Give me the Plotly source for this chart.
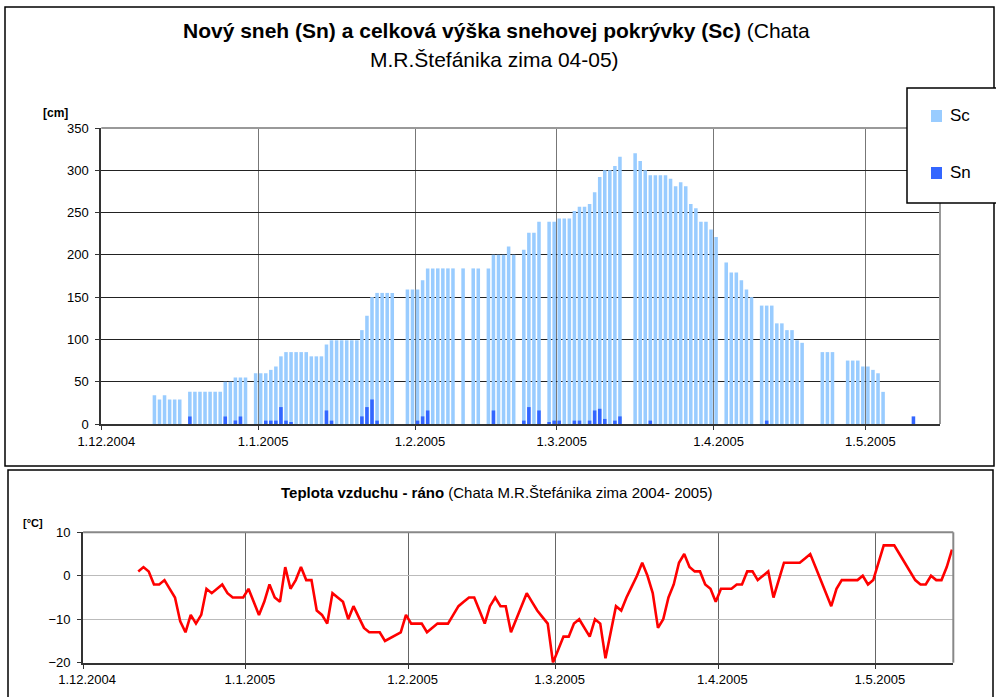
import pandas as pd
import plotly.graph_objects as go

# Snow data, one value per day starting 11.12.2004 (None = no measurement)
snow_start = '2004-12-11 12:00'
sc = [34, 29, 34, 29, 29, 29, None, 38, 38, 38, 38, 38, 38, 38, 50, 50, 55, 55, 55, None,
      60, 60, 60, 64, 68, 80, 85, 85, 85, 85, 85, 80, 80, 80, 94, 99, 99, 99, 99, 99, 99,
      111, 128, 150, 155, 155, 155, 155, None, None, 159, 159, 159, 170, 184, 184, 184, 184,
      184, 184, None, 184, None, 184, 184, None, 184, 200, 200, 200, 210, 200, None, 206,
      226, 226, 239, None, 239, 239, 243, 243, 243, 252, 257, 257, 260, 274, 292, 300, 300,
      305, 316, None, None, 320, 311, 300, 294, 294, 294, 294, 290, 281, 286, 281, 260, 255,
      239, 239, 230, 221, None, 191, 179, 179, 170, 159, 150, None, 140, 140, 140, 119, 119,
      111, 111, 99, 96, None, None, None, 85, 85, 85, None, None, 75, 75, 75, 68, 68, 64,
      60, 38, None, None, None, None, None, None]
sn = [None] * len(sc)
sn_days = {17: 9, 24: 9, 26: 4, 27: 9, 32: 4, 33: 4, 34: 4, 35: 20, 36: 4, 37: 2, 44: 16,
           45: 4, 51: 9, 52: 20, 53: 29, 54: 4, 62: 4, 63: 9, 64: 16, 77: 16, 83: 4, 84: 20,
           86: 16, 88: 2, 89: 4, 90: 4, 93: 4, 94: 4, 96: 4, 97: 16, 98: 18, 99: 6, 101: 4,
           102: 9, 108: 4, 131: 4, 160: 9}
for day, val in sn_days.items():
    sn[day - 10] = val

# Morning air temperature, one value per day starting 11.12.2004
temp = [1, 2, 1, -2, -2, -1, -3, -5, -10.5, -13, -9, -11, -9, -3, -4, -3, -2, -4, -5, -5,
        -5, -3, -6, -9, -6, -2, -5, -6, 2, -3, -1, 2, -1, -1, -8, -9, -11, -4, -5, -6,
        -10, -7, -9.5, -12, -13, -13, -13, -15, -14.3, -13.7, -13, -9, -11, -11, -11, -13,
        -12, -11, -11, -11, -9, -7, -6, -5, -5, -8, -11, -7, -5, -7, -7, -13, -10, -7, -4,
        -6, -8, -9.5, -11, -20, -17, -14, -14, -11, -10, -12, -14, -10, -11, -19, -13, -7,
        -8, -5, -2.5, 0, 3, 0, -4, -12, -10, -5, -2, 3, 5, 2, 1, 1, -2, -3, -6, -3, -3, -3,
        -2, -2, 1, 1, -1, 0, 1, -5, -1, 3, 3, 3, 3, 4, 5, 2, -1, -4, -7, -3, -1, -1, -1, -1,
        0, -2, -1, 3, 7, 7, 7, 5, 3, 1, -1, -2, -2, 0, -1, -1, 2, 6]

month_ticks = ['2004-12-01', '2005-01-01', '2005-02-01', '2005-03-01', '2005-04-01', '2005-05-01']
month_labels = ['1.12.2004', '1.1.2005', '1.2.2005', '1.3.2005', '1.4.2005', '1.5.2005']
x_range = ['2004-12-01', '2005-05-15 18:00']

sc_color = '#99CCFF'
sn_color = '#3366FF'

snow_dates = pd.date_range(snow_start, periods=len(sc), freq='D')
temp_dates = pd.date_range(snow_start, periods=len(temp), freq='D')

W, H = 996, 697
def px(x):
    return x / W
def py(y):
    return 1 - y / H

bar_w = 0.7 * 86400000
fig = go.Figure()
fig.add_trace(go.Bar(x=snow_dates, y=sc, name='Sc', width=bar_w, marker=dict(color=sc_color, line_width=0)))
fig.add_trace(go.Bar(x=snow_dates, y=sn, name='Sn', width=bar_w, marker=dict(color=sn_color, line_width=0)))
fig.add_trace(go.Scatter(x=temp_dates, y=temp, mode='lines', line=dict(color='#FF0000', width=2.6),
                         xaxis='x2', yaxis='y2'))

tick_font = dict(family='Arial', size=13, color='black')
axis_common = dict(tickfont=tick_font, showgrid=True, gridwidth=1, ticks='outside', ticklen=4,
                   tickcolor='#333', showline=True, linecolor='#333', linewidth=2,
                   zeroline=False, automargin=False)
fig.update_layout(
    template='none',
    width=W, height=H, margin=dict(l=0, r=0, t=0, b=0, pad=0, autoexpand=False),
    paper_bgcolor='white', plot_bgcolor='white', showlegend=False,
    barmode='overlay', font=dict(family='Arial', color='black'),
    xaxis=dict(domain=[px(101.3), px(940)], range=x_range, type='date', ticklabelshift=5,
               tickvals=month_ticks, ticktext=month_labels, gridcolor='#777', **axis_common),
    yaxis=dict(domain=[py(424), py(128)], range=[0, 350], dtick=50, gridcolor='#222',
               ticklabelstandoff=4, **axis_common),
    xaxis2=dict(domain=[px(83.1), px(953.3)], range=x_range, type='date', anchor='y2', ticklabelshift=4,
                tickvals=month_ticks, ticktext=month_labels, gridcolor='#666', **axis_common),
    yaxis2=dict(domain=[py(662.7), py(532.3)], range=[-20, 10], dtick=10, anchor='x2',
                gridcolor='#BBBBBB', ticklabelstandoff=4, **axis_common),
)

# plot-area borders (top / right), chart frames and the legend box
shapes = [
    dict(type='line', xref='x domain', yref='y domain', x0=0, x1=1, y0=1, y1=1, line=dict(color='#999', width=2)),
    dict(type='line', xref='x domain', yref='y domain', x0=1, x1=1, y0=0, y1=1, line=dict(color='#999', width=2)),
    dict(type='line', xref='x2 domain', yref='y2 domain', x0=0, x1=1, y0=1, y1=1, line=dict(color='#888', width=2)),
    dict(type='line', xref='x2 domain', yref='y2 domain', x0=1, x1=1, y0=0, y1=1, line=dict(color='#888', width=2)),
    dict(type='rect', xref='paper', yref='paper', x0=px(5), x1=px(994), y0=py(466), y1=py(7),
         line=dict(color='black', width=1.5)),
    dict(type='rect', xref='paper', yref='paper', x0=px(8), x1=px(993), y0=py(698), y1=py(470),
         line=dict(color='black', width=1.5)),
    dict(type='rect', xref='paper', yref='paper', x0=px(907), x1=px(1002), y0=py(203), y1=py(88),
         fillcolor='white', line=dict(color='black', width=1.5)),
    dict(type='rect', xref='paper', yref='paper', x0=px(931), x1=px(942), y0=py(122), y1=py(110),
         fillcolor=sc_color, line_width=0),
    dict(type='rect', xref='paper', yref='paper', x0=px(931), x1=px(942), y0=py(179), y1=py(167),
         fillcolor=sn_color, line_width=0),
]
fig.update_layout(shapes=shapes)

annotations = [
    dict(x=px(496), y=py(30), text='<b>Nový sneh (Sn) a celková výška snehovej pokrývky (Sc)</b> (Chata',
         font=dict(size=21)),
    dict(x=px(494), y=py(60), text='M.R.Štefánika zima 04-05)', font=dict(size=21)),
    dict(x=px(55), y=py(113), text='<b>[cm]</b>', font=dict(size=12)),
    dict(x=px(497), y=py(492), text='<b>Teplota vzduchu - ráno</b> (Chata M.R.Štefánika zima 2004- 2005)',
         font=dict(size=15)),
    dict(x=px(33), y=py(523), text='<b>[°C]</b>', font=dict(size=11)),
    dict(x=px(948), y=py(116), text='Sc', font=dict(size=17), xanchor='left'),
    dict(x=px(948), y=py(173), text='Sn', font=dict(size=17), xanchor='left'),
]
for a in annotations:
    a.setdefault('xanchor', 'center')
    a.update(xref='paper', yref='paper', showarrow=False, yanchor='middle')
fig.update_layout(annotations=annotations)

# drop the default page margin so the figure sits at the window's top-left corner
fig.write_html('out.html', config={'displayModeBar': False},
               post_script="document.body.style.margin='0';")
